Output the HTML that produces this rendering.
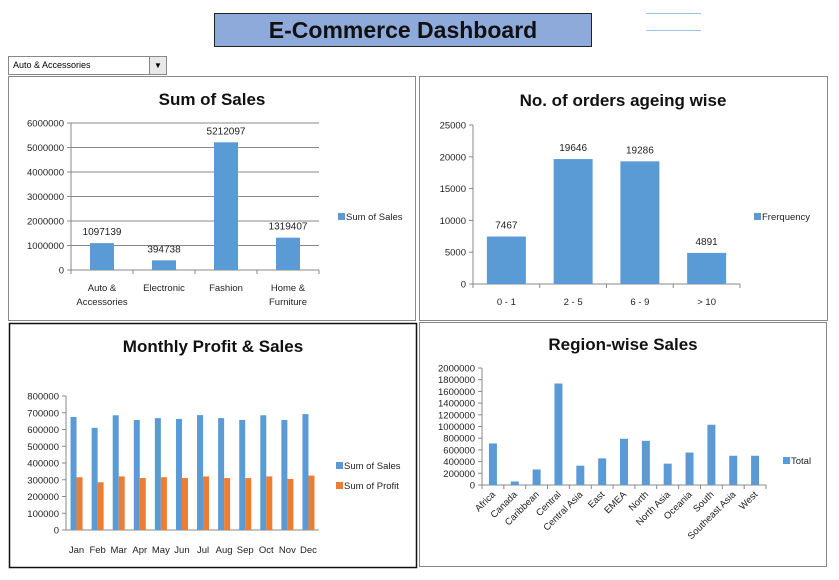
<!DOCTYPE html>
<html><head><meta charset="utf-8"><style>
body{margin:0;width:839px;height:580px;background:#fff;position:relative;overflow:hidden;font-family:"Liberation Sans",sans-serif}
.abs{position:absolute}
</style></head><body>
<div class="abs" style="left:214px;top:13px;width:376px;height:32px;background:#8eaadb;border:1px solid #222;text-align:center;font:bold 23px/32px 'Liberation Sans',sans-serif;color:#111">E-Commerce Dashboard</div>
<div class="abs" style="left:646px;top:13px;width:55px;height:1px;background:#9dc3e6"></div>
<div class="abs" style="left:646px;top:30px;width:55px;height:1px;background:#9dc3e6"></div>
<div class="abs" style="left:8px;top:56px;width:157px;height:17px;border:1px solid #888;background:#fff;font-size:9px;line-height:17px">
<span style="padding-left:4px">Auto &amp; Accessories</span>
<div style="position:absolute;right:0;top:0;width:16px;height:17px;background:#e8e8e8;border-left:1px solid #888;text-align:center;font-size:8px">▼</div></div>
<svg class="abs" style="left:0;top:0" width="839" height="580" id="svg"></svg>
<script>
const salesCats=["Auto & Accessories","Electronic","Fashion","Home & Furniture"];
const salesVals=[1097139,394738,5212097,1319407];
const salesTicks=[0,1000000,2000000,3000000,4000000,5000000,6000000];
const ageCats=["0 - 1","2 - 5","6 - 9","> 10"];
const ageVals=[7467,19646,19286,4891];
const ageTicks=[0,5000,10000,15000,20000,25000];
const months=["Jan","Feb","Mar","Apr","May","Jun","Jul","Aug","Sep","Oct","Nov","Dec"];
const monthSales=[675000,610000,685000,657000,668000,663000,686000,668000,657000,685000,657000,692000];
const monthProfit=[315000,285000,320000,310000,315000,310000,320000,310000,310000,320000,305000,325000];
const monthTicks=[0,100000,200000,300000,400000,500000,600000,700000,800000];
const regions=["Africa","Canada","Caribbean","Central","Central Asia","East","EMEA","North","North Asia","Oceania","South","Southeast Asia","West"];
const regionVals=[710000,60000,265000,1735000,330000,455000,790000,755000,365000,555000,1030000,500000,500000];
const regionTicks=[0,200000,400000,600000,800000,1000000,1200000,1400000,1600000,1800000,2000000];

const svg=document.getElementById('svg');const NS='http://www.w3.org/2000/svg';
function mk(t,a,txt){const e=document.createElementNS(NS,t);for(const k in a)e.setAttribute(k,a[k]);if(txt!==undefined)e.textContent=txt;svg.appendChild(e);return e;}
function panel(x,y,w,h,stroke,sw,name){const r=mk('rect',{x:x,y:y,width:w,height:h,fill:'none',stroke:stroke,'stroke-width':sw});

}
function title(x,y,t,name){const e=mk('text',{x:x,y:y,'text-anchor':'middle','font-size':17,'font-weight':'bold',fill:'#111'},t);

}
function legend(x,y,color,t,name){const r=mk('rect',{x:x,y:y-6,width:7,height:7,fill:color});


const e=mk('text',{x:x+8,y:y+1,'font-size':9.5,fill:'#222'},t);

}
function chart(o){
 const {x0,x1,yTop,yBot,ticks,cats,series,colors,barW,grid,labels,rot,name}=o;
 const max=ticks[ticks.length-1];const ys=v=>yBot-(v/max)*(yBot-yTop);
 const cw=(x1-x0)/cats.length;
 ticks.forEach(t=>{
  if(grid){const g=mk('line',{x1:x0,x2:x1,y1:ys(t),y2:ys(t),stroke:'#888','stroke-width':1});
  
  }
  mk('line',{x1:x0-4,x2:x0,y1:ys(t),y2:ys(t),stroke:'#888'});
  const e=mk('text',{x:x0-7,y:ys(t)+3.5,'text-anchor':'end','font-size':o.tf||9.5,fill:'#222'},t);
  
  
 });
 mk('line',{x1:x0,x2:x0,y1:yTop,y2:yBot,stroke:'#888'});
 mk('line',{x1:x0,x2:x1,y1:yBot,y2:yBot,stroke:'#888'});
 for(let i=0;i<=cats.length;i++){if(o.noXTicks)break;mk('line',{x1:x0+i*cw,x2:x0+i*cw,y1:yBot,y2:yBot+4,stroke:'#888'});}
 cats.forEach((c,i)=>{
  const cx=x0+(i+0.5)*cw;
  series.forEach((s,j)=>{
   const bx=cx-(series.length*barW)/2+j*barW;
   const b=mk('rect',{x:bx,y:ys(s[i]),width:barW,height:yBot-ys(s[i]),fill:colors[j]});
   
   
   if(labels){const l=mk('text',{x:cx,y:ys(s[i])-8,'text-anchor':'middle','font-size':10,fill:'#222'},s[i]);
   
   }
  });
  let lab;
  if(rot){lab=mk('text',{x:cx+3,y:yBot+10,'text-anchor':'end','font-size':9.5,fill:'#222',transform:`rotate(-45 ${cx+3} ${yBot+10})`},c);}
  else if(o.wrap&&c.includes(' & ')){const p=c.split(' & ');lab=mk('text',{x:cx,y:yBot+21,'text-anchor':'middle','font-size':9.5,fill:'#222'},p[0]+' &');
   const l2=mk('text',{x:cx,y:yBot+35,'text-anchor':'middle','font-size':9.5,fill:'#222'},p[1]);
   
   }
  else lab=mk('text',{x:cx,y:yBot+(o.xl||21),'text-anchor':'middle','font-size':9.5,fill:'#222'},c);
  
  
 });
}
const blue='#5b9bd5',orange='#ed7d31';
panel(8.5,76.5,407,244,'#888',1,'sum-of-sales-panel');
title(212,105,'Sum of Sales','sum-of-sales-title');
chart({x0:71,x1:319,yTop:123,yBot:270,ticks:salesTicks,cats:salesCats,series:[salesVals],colors:[blue],barW:24,grid:true,labels:true,wrap:true,name:'sales'});
legend(338,219,blue,'Sum of Sales','sales-legend');

panel(419.5,76.5,408,244,'#888',1,'orders-panel');
title(623,106,'No. of orders ageing wise','orders-title');
chart({x0:473,x1:740,yTop:125,yBot:284,ticks:ageTicks,cats:ageCats,series:[ageVals],colors:[blue],barW:39,grid:false,labels:true,name:'orders'});
legend(754,219,blue,'Frerquency','orders-legend');

panel(9.5,323.5,407,244,'#111',1.5,'monthly-panel');
title(213,352,'Monthly Profit & Sales','monthly-title');
chart({x0:66,x1:319,yTop:396,yBot:530,ticks:monthTicks,cats:months,series:[monthSales,monthProfit],colors:[blue,orange],barW:6,grid:false,labels:false,noXTicks:true,xl:23,name:'monthly'});
legend(336,468,blue,'Sum of Sales','monthly-legend-sales');
legend(336,488,orange,'Sum of Profit','monthly-legend-profit');

panel(419.5,322.5,407,244,'#888',1,'region-panel');
title(623,350,'Region-wise Sales','region-title');
chart({x0:482,x1:766,yTop:368,yBot:485,ticks:regionTicks,cats:regions,series:[regionVals],colors:[blue],barW:8,grid:false,labels:false,rot:true,name:'region'});
legend(783,463,blue,'Total','region-legend');
</script>
</body></html>
